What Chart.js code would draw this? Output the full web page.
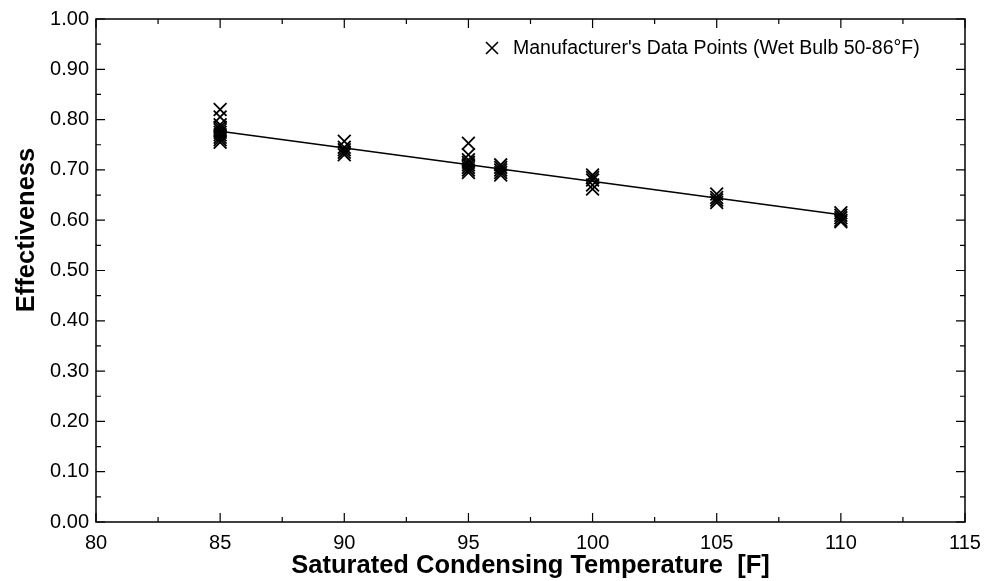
<!DOCTYPE html>
<html>
<head>
<meta charset="utf-8">
<title>Effectiveness vs Saturated Condensing Temperature</title>
<script src="https://cdn.jsdelivr.net/npm/chart.js@4.4.1/dist/chart.umd.min.js"></script>
<style>
  html, body { margin: 0; padding: 0; background: #fff; }
  #wrap { width: 985px; height: 581px; position: relative; }
</style>
</head>
<body>
<div id="wrap"><canvas id="effChart"></canvas></div>
<script>
// --- data ---
const condTemps = [85, 90, 95, 96.3, 100, 105, 110];
const eff85  = [0.820, 0.805, 0.790, 0.785, 0.780, 0.775, 0.770, 0.765, 0.760, 0.755];
const eff90  = [0.757, 0.745, 0.740, 0.735, 0.730];
const eff95  = [0.753, 0.730, 0.720, 0.715, 0.710, 0.705, 0.700, 0.695];
const eff963 = [0.710, 0.705, 0.700, 0.695, 0.690];
const eff100 = [0.690, 0.685, 0.680, 0.670, 0.662];
const eff105 = [0.652, 0.645, 0.640, 0.635];
const eff110 = [0.615, 0.610, 0.605, 0.600, 0.597];
const effGroups = [eff85, eff90, eff95, eff963, eff100, eff105, eff110];

const fitTemps = [85, 110];
const fitEff   = [0.777, 0.611];

const pointLabel = "Manufacturer's Data Points (Wet Bulb 50-86°F)";
const yTitle = 'Effectiveness';

// flatten into {x,y} for the scatter
const mfrPoints = [];
condTemps.forEach((t, i) => {
    effGroups[i].forEach(v => mfrPoints.push({ x: t, y: v }));
});
const fitPoints = fitTemps.map((t, i) => ({ x: t, y: fitEff[i] }));

const FONT = "'Liberation Sans', Arial, sans-serif";

// box frame + inward ticks on all four sides, legend, y title
const frameTicks = {
    id: 'frameTicks',
    afterDraw(chart) {
        const { ctx, chartArea: a, scales: { x, y } } = chart;
        ctx.save();
        ctx.strokeStyle = '#000';
        ctx.lineWidth = 1.5;
        ctx.strokeRect(a.left, a.top, a.right - a.left, a.bottom - a.top);

        ctx.lineWidth = 1.2;
        ctx.beginPath();
        for (let k = 0; k <= 14; k++) {
            const px = x.getPixelForValue(80 + k * 2.5);
            const len = k % 2 === 0 ? 9 : 5;
            ctx.moveTo(px, a.bottom); ctx.lineTo(px, a.bottom - len);
            ctx.moveTo(px, a.top);    ctx.lineTo(px, a.top + len);
        }
        for (let k = 0; k <= 20; k++) {
            const py = y.getPixelForValue(k * 0.05);
            const len = k % 2 === 0 ? 9 : 5;
            ctx.moveTo(a.left, py);  ctx.lineTo(a.left + len, py);
            ctx.moveTo(a.right, py); ctx.lineTo(a.right - len, py);
        }
        ctx.stroke();

        // legend inside plot, top right
        const lx = a.right - 473, ly = a.top + 29;
        ctx.lineWidth = 1.6;
        ctx.beginPath();
        ctx.moveTo(lx - 6, ly - 6); ctx.lineTo(lx + 6, ly + 6);
        ctx.moveTo(lx - 6, ly + 6); ctx.lineTo(lx + 6, ly - 6);
        ctx.stroke();
        ctx.fillStyle = '#000';
        ctx.font = '19.5px ' + FONT;
        ctx.textBaseline = 'middle';
        ctx.textAlign = 'left';
        ctx.fillText(chart.data.datasets[0].label, lx + 21, ly + 1);

        // y axis title (sits above centre in the original)
        ctx.translate(27, 230);
        ctx.rotate(-Math.PI / 2);
        ctx.font = 'bold 25.5px ' + FONT;
        ctx.textAlign = 'center';
        ctx.fillText(yTitle, 0, 0);
        ctx.restore();
    }
};

new Chart(document.getElementById('effChart'), {
    type: 'scatter',
    data: {
        datasets: [{
            label: pointLabel,
            data: mfrPoints,
            pointStyle: 'crossRot',
            pointRadius: 9,
            pointHoverRadius: 9,
            borderColor: '#000',
            backgroundColor: '#000',
            pointBorderWidth: 1.8,
            showLine: false
        }, {
            label: 'fit',
            data: fitPoints,
            showLine: true,
            borderColor: '#000',
            borderWidth: 1.5,
            pointRadius: 0,
            fill: false
        }]
    },
    options: {
        responsive: true,
        maintainAspectRatio: false,
        animation: false,
        layout: { padding: { left: 0, top: 19, right: 20, bottom: 0 } },
        plugins: {
            legend: { display: false },
            tooltip: { enabled: false }
        },
        scales: {
            x: {
                type: 'linear',
                min: 80, max: 115,
                grid: { display: false },
                border: { display: false },
                ticks: {
                    stepSize: 5,
                    color: '#000',
                    padding: 1,
                    font: { family: FONT, size: 20 },
                    maxRotation: 0
                },
                title: {
                    display: true,
                    text: 'Saturated Condensing Temperature  [F]',
                    color: '#000',
                    font: { family: FONT, size: 25.5, weight: 'bold' },
                    padding: { top: 0, bottom: 0 }
                },
                afterFit(scale) { scale.height = 59; }
            },
            y: {
                type: 'linear',
                min: 0, max: 1,
                grid: { display: false },
                border: { display: false },
                ticks: {
                    stepSize: 0.1,
                    color: '#000',
                    padding: -1,
                    font: { family: FONT, size: 20 },
                    callback: v => v.toFixed(2)
                },
                afterFit(scale) { scale.width = 96; }
            }
        }
    },
    plugins: [frameTicks]
});
</script>
</body>
</html>
